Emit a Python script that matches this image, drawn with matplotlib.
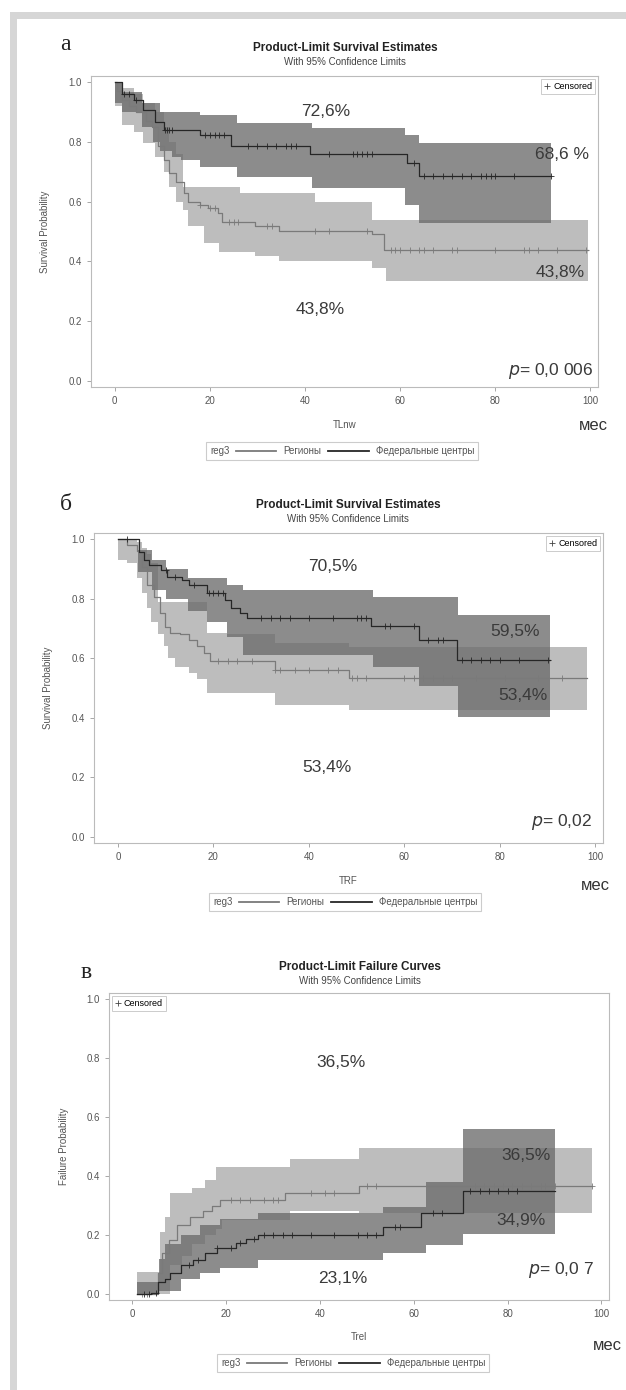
import numpy as np
import matplotlib.pyplot as plt
from matplotlib.lines import Line2D
from matplotlib.patches import Rectangle
from matplotlib.offsetbox import AnchoredOffsetbox, HPacker, TextArea, DrawingArea

plt.rcParams['font.family'] = ['Liberation Sans', 'DejaVu Sans']

W, H = 626, 1390

# ---- panel a: Product-Limit Survival Estimates (TLnw) ----
a_reg_t = [0, 0.5, 1.5, 3, 4.5, 6.5, 7.8, 9, 10.3, 11.5, 12.8, 14.5, 15.3, 18, 19.5, 21.6, 22.5, 29.5, 34.6, 54, 56.5]
a_reg_s = [1.0, 0.97, 0.94, 0.92, 0.9, 0.87, 0.85, 0.785, 0.74, 0.695, 0.667, 0.63, 0.597, 0.59, 0.58, 0.563, 0.533, 0.517, 0.5, 0.49, 0.438]
a_reg_end = 99.4
a_reg_band_t = [0, 1.6, 4, 6, 8.5, 10.3, 11.5, 12.8, 14.3, 15.4, 18.8, 22, 26.3, 29.5, 34.6, 42, 54, 57]
a_reg_hi = [1.0, 0.98, 0.96, 0.93, 0.9, 0.85, 0.8, 0.76, 0.65, 0.65, 0.65, 0.65, 0.63, 0.63, 0.63, 0.6, 0.54, 0.54]
a_reg_lo = [0.92, 0.857, 0.833, 0.797, 0.75, 0.7, 0.65, 0.6, 0.573, 0.517, 0.463, 0.43, 0.43, 0.417, 0.4, 0.4, 0.377, 0.333]
a_reg_cens = [18, 20, 21, 24, 25, 26, 32, 33, 42, 45, 53, 58, 59, 60, 62, 64, 65, 67, 71, 72, 80, 86, 87, 89, 93, 99]

a_fed_t = [0, 1.5, 4, 6, 8.5, 10.3, 18, 24.5, 41, 61.5, 64]
a_fed_s = [1.0, 0.96, 0.94, 0.907, 0.867, 0.84, 0.823, 0.785, 0.76, 0.73, 0.686]
a_fed_end = 91.8
a_fed_band_t = [0, 1.5, 5.7, 8, 9.5, 12, 14, 18, 25.6, 41.5, 61, 64]
a_fed_hi = [1.0, 0.967, 0.93, 0.93, 0.9, 0.9, 0.9, 0.89, 0.863, 0.847, 0.823, 0.797]
a_fed_lo = [0.93, 0.9, 0.85, 0.8, 0.77, 0.75, 0.74, 0.717, 0.683, 0.645, 0.59, 0.53]
a_fed_cens = [2, 3, 4.5, 10.5, 11, 11.5, 12, 19, 20, 21, 22, 23, 28, 30, 32, 34, 36, 37, 38, 45, 50, 51, 52, 53, 54,
              63, 65, 67, 69, 71, 73, 75, 77, 78, 79, 80, 84, 91.8]

# ---- panel б: Product-Limit Survival Estimates (TRF) ----
b_reg_t = [0, 2, 4, 5, 6, 7.5, 8.9, 9.8, 11, 13, 15, 16.5, 18, 19.3, 33, 48.5]
b_reg_s = [1.0, 0.98, 0.96, 0.906, 0.845, 0.806, 0.75, 0.705, 0.685, 0.68, 0.66, 0.64, 0.617, 0.59, 0.56, 0.534]
b_reg_end = 98.3
b_reg_band_t = [0, 2, 4, 5, 6, 7, 8.4, 9.6, 10.5, 12, 15, 16.5, 18.7, 22.8, 33, 48.5]
b_reg_hi = [1.0, 1.0, 0.99, 0.97, 0.95, 0.92, 0.79, 0.79, 0.79, 0.79, 0.79, 0.79, 0.685, 0.68, 0.65, 0.638]
b_reg_lo = [0.93, 0.92, 0.87, 0.82, 0.77, 0.72, 0.68, 0.64, 0.6, 0.57, 0.55, 0.53, 0.483, 0.483, 0.443, 0.425]
b_reg_cens = [21, 23, 25, 28, 33, 34, 37, 40, 44, 46, 49, 50, 52, 60, 62, 64, 66, 68, 70, 75, 81, 88, 93]

b_fed_t = [0, 4.4, 5.5, 6.5, 9, 10.3, 13.5, 15, 18.7, 22.5, 23.7, 25.5, 27, 53, 63, 71]
b_fed_s = [1.0, 0.957, 0.93, 0.913, 0.896, 0.873, 0.862, 0.845, 0.82, 0.795, 0.77, 0.75, 0.735, 0.708, 0.66, 0.595]
b_fed_end = 90.4
b_fed_band_t = [0, 4.2, 7.2, 10, 14.6, 18.7, 22.8, 26.2, 53.5, 63, 71.3]
b_fed_hi = [1.0, 0.963, 0.93, 0.9, 0.87, 0.87, 0.845, 0.828, 0.806, 0.806, 0.745]
b_fed_lo = [1.0, 0.89, 0.83, 0.8, 0.76, 0.72, 0.67, 0.61, 0.57, 0.507, 0.403]
b_fed_cens = [2, 10, 12, 16, 19, 20, 21, 22, 30, 32, 34, 36, 40, 45, 50, 51, 52, 56, 57, 62, 65, 67, 68,
              72, 74, 76, 78, 80, 84, 90]

# ---- panel в: Product-Limit Failure Curves (Trel) ----
c_reg_t = [1, 4, 5.5, 6.3, 7.7, 9.5, 12.3, 15, 17, 18.7, 32.6, 48.4]
c_reg_s = [0.0, 0.0, 0.07, 0.14, 0.183, 0.234, 0.26, 0.28, 0.3, 0.318, 0.342, 0.365]
c_reg_end = 98
c_reg_band_t = [1, 4.5, 5.8, 7, 8, 10.5, 12.6, 15.4, 17.9, 19, 33.6, 48.4]
c_reg_hi = [0.075, 0.075, 0.21, 0.26, 0.342, 0.342, 0.36, 0.386, 0.43, 0.43, 0.457, 0.495]
c_reg_lo = [0.0, 0.0, 0.0, 0.0, 0.1, 0.13, 0.17, 0.2, 0.22, 0.25, 0.28, 0.275]
c_reg_cens = [2, 3, 21, 23, 25, 28, 30, 31, 38, 41, 43, 50, 52, 73, 75, 77, 79, 81, 83, 85, 87, 88, 90, 98]

c_fed_t = [1, 4, 5.5, 7, 8, 10.3, 13, 15.4, 18, 22, 24.3, 26.8, 53.4, 61.5, 70.5]
c_fed_s = [0.0, 0.003, 0.04, 0.05, 0.07, 0.1, 0.115, 0.138, 0.155, 0.173, 0.185, 0.2, 0.227, 0.275, 0.349]
c_fed_end = 90
c_fed_band_t = [1, 5.6, 7, 10.3, 14.5, 18.7, 26.8, 53.4, 62.5, 70.5]
c_fed_hi = [0.04, 0.12, 0.17, 0.2, 0.235, 0.255, 0.275, 0.296, 0.38, 0.56]
c_fed_lo = [0.0, 0.01, 0.01, 0.05, 0.07, 0.09, 0.115, 0.138, 0.165, 0.205]
c_fed_cens = [2.5, 3.5, 5, 12, 14, 18, 21, 23, 26, 28, 30, 32, 34, 38, 43, 48, 50, 52, 56, 57, 64, 66,
              72, 74, 76, 78, 80, 82]

x_ticks = [0, 20, 40, 60, 80, 100]
y_ticks = [0.0, 0.2, 0.4, 0.6, 0.8, 1.0]

REG_BAND = '#bdbdbd'
FED_BAND = '#6a6a6a'
REG_LINE = '#7a7a7a'
FED_LINE = '#262626'
TXT = '#3a3a3a'


def fx(px):
    return px / W


def fy(py):
    return 1 - py / H


def step_value(t, s, x):
    i = np.searchsorted(t, x, side='right') - 1
    return np.asarray(s)[np.clip(i, 0, len(s) - 1)]


def draw_group(ax, t, s, end, band_t, lo, hi, cens, band_color, line_color, band_alpha):
    bx = list(band_t) + [end]
    ax.fill_between(bx, list(lo) + [lo[-1]], list(hi) + [hi[-1]], step='post',
                    color=band_color, alpha=band_alpha, lw=0)
    ax.step(list(t) + [end], list(s) + [s[-1]], where='post', color=line_color, lw=0.9)
    ax.plot(cens, step_value(t, s, cens), ls='none', marker='+', ms=4, mew=0.6, color=line_color)


def group_legend(fig, cx, cy):
    items = [TextArea('reg3', textprops=dict(size=7, color='#555'))]
    for color, label in [(REG_LINE, 'Регионы'), (FED_LINE, 'Федеральные центры')]:
        da = DrawingArea(29, 6, 0, 0)
        da.add_artist(Line2D([0, 29], [3, 3], color=color, lw=1.3))
        items.append(da)
        items.append(TextArea(label, textprops=dict(size=7, color='#555')))
    box = HPacker(children=items, align='center', pad=0, sep=5)
    anchored = AnchoredOffsetbox(loc='center', child=box, pad=0.3, borderpad=0, frameon=True,
                                 bbox_to_anchor=(fx(cx), fy(cy)), bbox_transform=fig.transFigure)
    anchored.patch.set_edgecolor('#cccccc')
    anchored.patch.set_linewidth(0.8)
    fig.add_artist(anchored)


def make_panel(fig, box, letter, letter_xy, title, sub, title_xy, xlabel, ylabel,
               reg, fed, notes, cens_loc, legend_xy, mes_xy):
    left, top, right, bottom = box
    ax = fig.add_axes([fx(left), fy(bottom), (right - left) / W, (bottom - top) / H])
    draw_group(ax, *reg, REG_BAND, REG_LINE, 1.0)
    draw_group(ax, *fed, FED_BAND, FED_LINE, 0.77)
    ax.set_xlim(-5, 101.6)
    ax.set_ylim(-0.02, 1.02)
    ax.set_xticks(x_ticks)
    ax.set_yticks(y_ticks)
    ax.set_yticklabels([f'{v:.1f}' for v in y_ticks])
    ax.tick_params(labelsize=7, colors='#555', length=3, width=0.6, color='#999')
    for sp in ax.spines.values():
        sp.set_color('#bbbbbb')
        sp.set_linewidth(0.8)
    ax.set_xlabel(xlabel, fontsize=7, color='#555')
    ax.xaxis.set_label_coords(0.5, -0.105)
    ax.set_ylabel(ylabel, fontsize=7, color='#555')
    ax.yaxis.set_label_coords(-0.08, 0.5)

    for x, y, s in notes:
        if s.startswith('p='):
            ax.text(x, y, r'$p$' + s[1:], fontsize=12.5, color=TXT, ha='center', va='center')
        else:
            ax.text(x, y, s, fontsize=12.5, color=TXT, ha='center', va='center')

    cens = ax.legend(handles=[Line2D([], [], ls='none', marker='+', ms=4, mew=0.6, color='#444')],
                     labels=['Censored'], loc=cens_loc, fontsize=6.5, handlelength=0.6,
                     handletextpad=0.4, borderpad=0.3, borderaxespad=0.35, fancybox=False,
                     edgecolor='#cccccc', framealpha=1)
    cens.get_frame().set_linewidth(0.7)

    fig.text(fx(letter_xy[0]), fy(letter_xy[1]), letter, family=['Liberation Serif', 'DejaVu Serif'],
             fontsize=17, color='#222', ha='center', va='center')
    fig.text(fx(title_xy[0]), fy(title_xy[1]), title, fontsize=8.5, weight='bold', color='#222',
             ha='center', va='center')
    fig.text(fx(title_xy[0]), fy(title_xy[1] + 14), sub, fontsize=7, color='#444', ha='center', va='center')
    fig.text(fx(mes_xy[0]), fy(mes_xy[1]), 'мес', fontsize=12, color='#333', ha='center', va='center')
    group_legend(fig, *legend_xy)
    return ax


fig = plt.figure(figsize=(W / 100, H / 100), dpi=100)

# outer page frame
fig.patches.append(Rectangle((fx(10), fy(19)), 1 - fx(10), 7 / H, transform=fig.transFigure,
                             color='#d6d6d6', lw=0))
fig.patches.append(Rectangle((fx(10), 0), 7 / W, fy(12), transform=fig.transFigure,
                             color='#d6d6d6', lw=0))

make_panel(fig, (91, 76, 598, 387), 'а', (65, 45),
           'Product-Limit Survival Estimates', 'With 95% Confidence Limits', (345, 48),
           'TLnw', 'Survival Probability',
           (a_reg_t, a_reg_s, a_reg_end, a_reg_band_t, a_reg_lo, a_reg_hi, a_reg_cens),
           (a_fed_t, a_fed_s, a_fed_end, a_fed_band_t, a_fed_lo, a_fed_hi, a_fed_cens),
           [(44.4, 0.9, '72,6%'), (94.1, 0.757, '68,6 %'), (93.7, 0.363, '43,8%'),
            (43.2, 0.24, '43,8%'), (91.6, 0.033, 'p= 0,0 006')],
           'upper right', (342, 451), (593, 425))

make_panel(fig, (94, 533, 603, 843), 'б', (66, 505),
           'Product-Limit Survival Estimates', 'With 95% Confidence Limits', (348, 505),
           'TRF', 'Survival Probability',
           (b_reg_t, b_reg_s, b_reg_end, b_reg_band_t, b_reg_lo, b_reg_hi, b_reg_cens),
           (b_fed_t, b_fed_s, b_fed_end, b_fed_band_t, b_fed_lo, b_fed_hi, b_fed_cens),
           [(44.9, 0.906, '70,5%'), (83.2, 0.688, '59,5%'), (84.9, 0.476, '53,4%'),
            (43.8, 0.232, '53,4%'), (92.9, 0.05, 'p= 0,02')],
           'upper right', (345, 902), (595, 885))

make_panel(fig, (109, 993, 609, 1300), 'в', (86, 972),
           'Product-Limit Failure Curves', 'With 95% Confidence Limits', (360, 967),
           'Trel', 'Failure Probability',
           (c_reg_t, c_reg_s, c_reg_end, c_reg_band_t, c_reg_lo, c_reg_hi, c_reg_cens),
           (c_fed_t, c_fed_s, c_fed_end, c_fed_band_t, c_fed_lo, c_fed_hi, c_fed_cens),
           [(44.5, 0.786, '36,5%'), (84.0, 0.471, '36,5%'), (82.8, 0.251, '34,9%'),
            (44.9, 0.054, '23,1%'), (91.3, 0.081, 'p= 0,0 7')],
           'upper left', (353, 1363), (607, 1345))

fig.savefig('out.png', dpi=100)
